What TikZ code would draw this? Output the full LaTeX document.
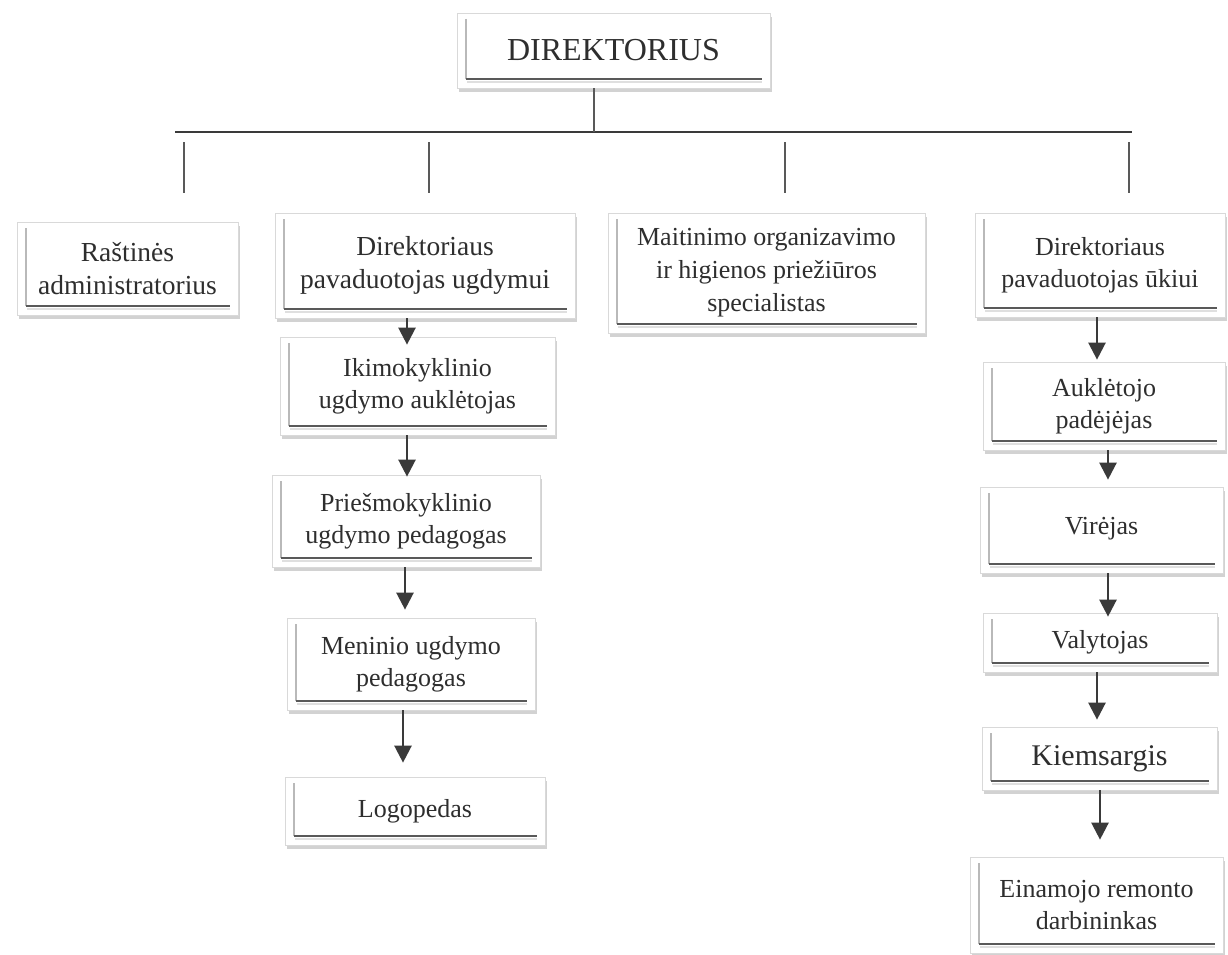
\documentclass[tikz,border=0pt]{standalone}
\usepackage{fontspec}
\setmainfont{Liberation Serif}
\usetikzlibrary{shadows,arrows.meta}
\definecolor{txt}{HTML}{2E2E2E}
\definecolor{ln}{HTML}{3A3A3A}
\tikzset{
  orgbox/.style={draw=gray!30, line width=0.7pt, fill=white, text=txt,
    align=center, inner sep=0pt, font=\fontsize{26}{32}\selectfont,
    drop shadow={opacity=0.35, shadow xshift=1.5pt, shadow yshift=-4pt},
    path picture={
      \draw[gray!55, line width=1.6pt]
        ([xshift=9pt,yshift=-6pt]path picture bounding box.north west) --
        ([xshift=9pt,yshift=9pt]path picture bounding box.south west);
      \draw[gray!70!black, line width=2.8pt]
        ([xshift=9pt,yshift=9pt]path picture bounding box.south west) --
        ([xshift=-8pt,yshift=9pt]path picture bounding box.south east);
      \draw[gray!25, line width=1.5pt]
        ([xshift=10pt,yshift=6pt]path picture bounding box.south west) --
        ([xshift=-8pt,yshift=6pt]path picture bounding box.south east);
    }},
  bar/.style={ln, line width=1.8pt},
  drop/.style={gray!70!black, line width=1.3pt},
  arr/.style={ln, line width=2.4pt, -{Triangle[length=17pt,width=17pt]}}
}
\newcommand{\bx}[7][]{%
  \node[orgbox, #1, minimum width=#5pt-#3pt, minimum height=#6pt-#4pt]
    (#2) at ({(#3+#5)/2},{(#4+#6)/2}) {#7};}
\begin{document}
\begin{tikzpicture}[x=1pt,y=-1pt]
\useasboundingbox (0,0) rectangle (1228,955);
\fill[white] (0,0) rectangle (1228,955);
% boxes
\bx[font=\fontsize{32}{36}\selectfont]{dir}{457}{13}{770}{88}{DIREKTORIUS}
\bx[font=\fontsize{27.5}{33}\selectfont]{ras}{17}{222}{238}{315}{Raštinės\\administratorius}
\bx[font=\fontsize{27.5}{33}\selectfont]{ugd}{275}{213}{575}{318}{Direktoriaus\\pavaduotojas ugdymui}
\bx{iki}{280}{337}{555}{435}{Ikimokyklinio\\ugdymo auklėtojas}
\bx{pri}{272}{475}{540}{567}{Priešmokyklinio\\ugdymo pedagogas}
\bx{men}{287}{618}{535}{710}{Meninio ugdymo\\pedagogas}
\bx{log}{285}{777}{545}{845}{Logopedas}
\bx[font=\fontsize{26}{33}\selectfont]{mai}{608}{213}{925}{333}{Maitinimo organizavimo\\ir higienos priežiūros\\specialistas}
\bx{uki}{975}{213}{1225}{317}{Direktoriaus\\pavaduotojas ūkiui}
\bx{auk}{983}{362}{1225}{450}{Auklėtojo\\padėjėjas}
\bx[text depth=8pt]{vir}{980}{487}{1223}{573}{Virėjas}
\bx{val}{983}{613}{1217}{672}{Valytojas}
\bx[font=\fontsize{30}{34}\selectfont]{kie}{982}{727}{1217}{790}{Kiemsargis}
\bx{ein}{970}{857}{1223}{953}{Einamojo remonto\\darbininkas}
% tree
\coordinate (barL) at (175,132);
\coordinate (barR) at (1132,132);
\coordinate (stem) at (594,132);
\draw[bar] (barL) -- (barR);
\draw[drop] ([xshift=-19.5pt]dir.south) -- (stem);
\coordinate (d1a) at (184,142); \coordinate (d1b) at (184,193);
\coordinate (d2a) at (429,142); \coordinate (d2b) at (429,193);
\coordinate (d3a) at (785,142); \coordinate (d3b) at (785,193);
\coordinate (d4a) at (1129,142); \coordinate (d4b) at (1129,193);
\draw[drop] (d1a) -- (d1b);
\draw[drop] (d2a) -- (d2b);
\draw[drop] (d3a) -- (d3b);
\draw[drop] (d4a) -- (d4b);
% arrows
\draw[arr] ([xshift=-18pt]ugd.south) -- ([xshift=-10.5pt,yshift=-8pt]iki.north);
\draw[arr] ([xshift=-10.5pt]iki.south) -- ([xshift=1pt,yshift=-2pt]pri.north);
\draw[arr] ([xshift=-1pt]pri.south) -- ([xshift=-6pt,yshift=8pt]men.north);
\draw[arr] ([xshift=-8pt]men.south) -- ([xshift=-12pt,yshift=14pt]log.north);
\draw[arr] ([xshift=-3pt]uki.south) -- ([xshift=-7pt,yshift=2pt]auk.north);
\draw[arr] ([xshift=4pt]auk.south) -- ([xshift=6.5pt,yshift=7pt]vir.north);
\draw[arr] ([xshift=6.5pt]vir.south) -- ([xshift=8pt,yshift=-4pt]val.north);
\draw[arr] ([xshift=-3pt]val.south) -- ([xshift=-2.5pt,yshift=7pt]kie.north);
\draw[arr] ([xshift=0.5pt]kie.south) -- ([xshift=3.5pt,yshift=17pt]ein.north);
\end{tikzpicture}
\end{document}
